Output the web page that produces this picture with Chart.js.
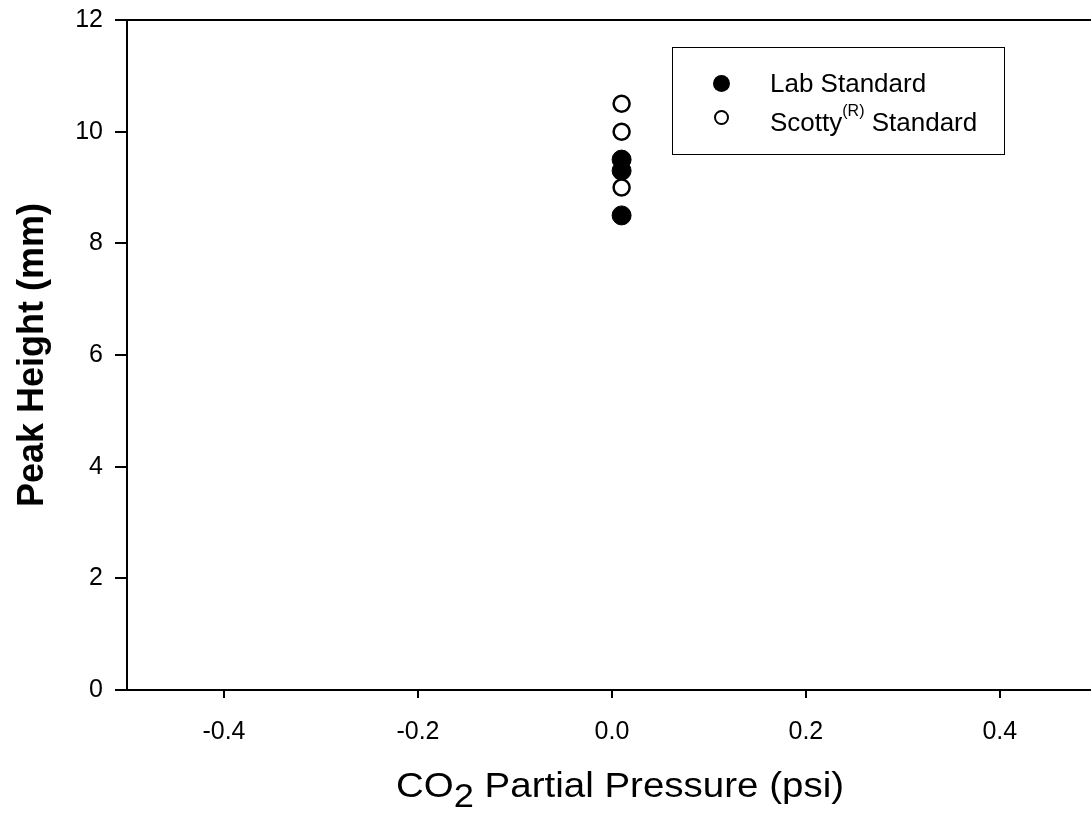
<!DOCTYPE html>
<html>
<head>
<meta charset="utf-8">
<script src="https://cdn.jsdelivr.net/npm/chart.js@4"></script>
<style>
  html, body { margin: 0; padding: 0; background: #fff; overflow: hidden; }
  #wrap { position: relative; width: 1091px; height: 819px; font-family: "Liberation Sans", Arial, sans-serif; color: #000; }
  #legend { position: absolute; left: 672px; top: 47px; width: 331px; height: 106px; border: 1.5px solid #000; }
  .mark { position: absolute; border-radius: 50%; box-sizing: border-box; }
  .lbl { position: absolute; left: 97px; font-size: 26px; line-height: 30px; white-space: nowrap; }
  .lbl sup { font-size: 16px; vertical-align: 15px; line-height: 0; }
  #xtitle { position: absolute; left: 20px; width: 1200px; top: 765px; text-align: center; font-size: 35px; line-height: 40px; white-space: nowrap; transform: scaleX(1.1); transform-origin: 600px 0; }
  #xtitle sub { font-size: 33px; vertical-align: -10px; line-height: 0; }
</style>
</head>
<body>
<div id="wrap">
  <canvas id="chart" width="1091" height="819"></canvas>
  <div id="legend">
    <span class="mark" style="left:40px;top:27px;width:17px;height:17px;background:#000"></span>
    <span class="lbl" style="top:20px">Lab Standard</span>
    <span class="mark" style="left:41px;top:62px;width:15px;height:15px;border:2px solid #000;background:#fff"></span>
    <span class="lbl" style="top:59px">Scotty<sup>(R)</sup> Standard</span>
  </div>
  <div id="xtitle">CO<sub>2</sub> Partial Pressure (psi)</div>
</div>
<script>
// data
const labX = [0.01, 0.01, 0.01];
const labY = [9.5, 9.3, 8.5];
const scottyX = [0.01, 0.01, 0.01];
const scottyY = [10.5, 10.0, 9.0];
const xTicks = [-0.4, -0.2, 0.0, 0.2, 0.4];
const yTicks = [0, 2, 4, 6, 8, 10, 12];

function pts(xs, ys) {
    return xs.map((x, i) => ({ x: x, y: ys[i] }));
}

// top frame line of the plot box
const topLine = {
    id: 'topLine',
    afterDraw(chart) {
        const ctx = chart.ctx;
        const a = chart.chartArea;
        ctx.save();
        ctx.strokeStyle = '#000';
        ctx.lineWidth = 2;
        ctx.beginPath();
        ctx.moveTo(a.left - 1, a.top);
        ctx.lineTo(a.right, a.top);
        ctx.stroke();
        ctx.restore();
    }
};

const ctx = document.getElementById('chart').getContext('2d');
new Chart(ctx, {
    type: 'scatter',
    data: {
        datasets: [
            {
                label: 'Scotty(R) Standard',
                data: pts(scottyX, scottyY),
                pointRadius: 8,
                pointBorderWidth: 2.5,
                pointBackgroundColor: '#fff',
                pointBorderColor: '#000',
                order: 0
            },
            {
                label: 'Lab Standard',
                data: pts(labX, labY),
                pointRadius: 9.5,
                pointBorderWidth: 1,
                pointBackgroundColor: '#000',
                pointBorderColor: '#000',
                order: 1
            }
        ]
    },
    options: {
        responsive: false,
        animation: false,
        layout: { autoPadding: false, padding: { top: 20, left: 0, right: 0, bottom: 0 } },
        plugins: { legend: { display: false }, tooltip: { enabled: false } },
        scales: {
            x: {
                type: 'linear',
                min: -0.5,
                max: 0.494,
                afterBuildTicks: scale => { scale.ticks = xTicks.map(v => ({ value: v })); },
                afterFit: scale => {
                    scale.height = 129;
                    scale.paddingLeft = 0;
                    scale.paddingRight = 0;
                },
                border: { display: true, color: '#000', width: 2 },
                grid: { drawOnChartArea: false, drawTicks: true, tickLength: 8, color: '#000', lineWidth: 2 },
                ticks: {
                    color: '#000',
                    padding: 19,
                    maxRotation: 0,
                    font: { family: 'Liberation Sans', size: 25 },
                    callback: v => v.toFixed(1)
                }
            },
            y: {
                min: 0,
                max: 12,
                afterBuildTicks: scale => { scale.ticks = yTicks.map(v => ({ value: v })); },
                afterFit: scale => {
                    scale.width = 127;
                    scale.paddingTop = 0;
                    scale.paddingBottom = 0;
                },
                border: { display: true, color: '#000', width: 2 },
                grid: { drawOnChartArea: false, drawTicks: true, tickLength: 12, color: '#000', lineWidth: 2 },
                ticks: {
                    color: '#000',
                    padding: 12,
                    font: { family: 'Liberation Sans', size: 25 }
                },
                title: {
                    display: true,
                    text: 'Peak Height (mm)',
                    color: '#000',
                    padding: { top: 11, bottom: 0 },
                    font: { family: 'Liberation Sans', size: 36, weight: 'bold' }
                }
            }
        }
    },
    plugins: [topLine]
});
</script>
</body>
</html>
